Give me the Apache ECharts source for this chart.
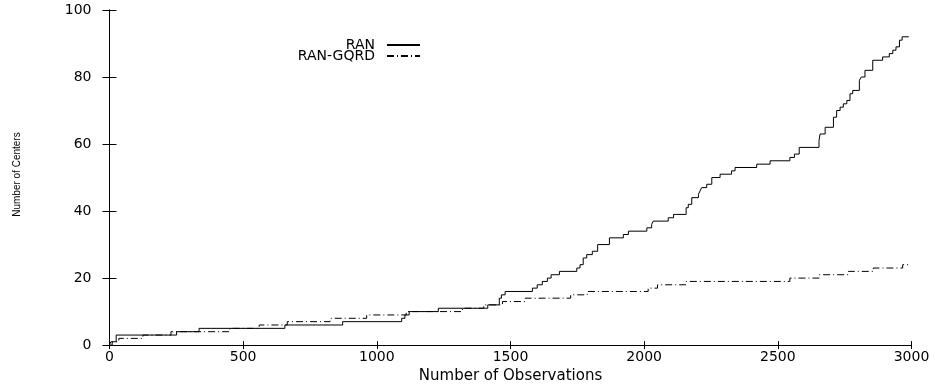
<!DOCTYPE html>
<html>
<head>
<meta charset="utf-8">
<script src="https://cdn.jsdelivr.net/npm/echarts@6/dist/echarts.min.js"></script>
<style>
  html, body { margin: 0; padding: 0; background: #fff; }
  #chart { width: 935px; height: 389px; }
</style>
</head>
<body>
<div id="chart"></div>
<script>
// step points: [observations, centers] -- value after the jump
const ranSteps = [
  [0, 0], [5, 1], [25, 3], [251, 4], [335, 5], [656, 6], [872, 7], [1093, 8],
  [1105, 9], [1121, 10], [1230, 11], [1415, 12], [1458, 14], [1466, 15], [1480, 16],
  [1582, 17], [1600, 18], [1619, 19], [1638, 20], [1652, 21], [1683, 22], [1748, 23],
  [1760, 24], [1772, 26], [1785, 27], [1806, 28], [1826, 30], [1870, 32], [1922, 33],
  [1941, 34], [2010, 35], [2028, 36], [2034, 37], [2090, 38], [2110, 39], [2157, 41],
  [2165, 42], [2178, 44], [2203, 45], [2209, 46], [2215, 47], [2234, 48], [2253, 50],
  [2284, 51], [2327, 52], [2340, 53], [2421, 54], [2471, 55], [2545, 56], [2562, 57],
  [2580, 59], [2654, 61], [2658, 63], [2677, 65], [2708, 68], [2720, 70], [2733, 71],
  [2745, 72], [2758, 73], [2770, 75], [2780, 76], [2805, 79], [2812, 80], [2826, 82],
  [2855, 85], [2892, 86], [2917, 87], [2930, 88], [2942, 89], [2955, 91], [2965, 92],
  [2990, 92]
];
const gqrdSteps = [
  [0, 0], [10, 1], [35, 2], [125, 3], [230, 4], [450, 5], [560, 6], [665, 7],
  [825, 8], [962, 9], [1110, 10], [1320, 11], [1400, 12], [1470, 13], [1555, 14],
  [1725, 15], [1787, 16], [2015, 17], [2050, 18], [2157, 19], [2545, 20], [2655, 21],
  [2764, 22], [2857, 23], [2967, 24], [2990, 24]
];
const xTicks = { min: 0, max: 3000, interval: 500 };
const yTicks = { min: 0, max: 100, interval: 20 };

const chart = echarts.init(document.getElementById("chart"));
const font = "DejaVu Sans";
const plain = (v) => String(v);

const option = {
  animation: false,
  textStyle: { fontFamily: font },
  grid: { left: 109.5, right: 23.5, top: 10, bottom: 33 },
  legend: {
    orient: "vertical",
    align: "right",
    right: 514,
    top: 38,
    padding: 0,
    itemWidth: 33,
    itemHeight: 8,
    itemGap: -3,
    itemStyle: { opacity: 0 },
    textStyle: {
      fontFamily: font, fontSize: 14, color: "#000",
      lineHeight: 11, padding: [0, 7, 0, 0],
    },
    data: ["RAN", "RAN-GQRD"],
  },
  xAxis: [
    {
      type: "value",
      ...xTicks,
      name: "Number of Observations",
      nameLocation: "middle",
      nameGap: 11,
      nameTextStyle: { fontFamily: font, fontSize: 15, color: "#000" },
      axisLine: { lineStyle: { color: "#000", width: 1 } },
      axisTick: { inside: true, length: 4, lineStyle: { color: "#000" } },
      axisLabel: { color: "#000", fontSize: 14, margin: 5, fontFamily: font, formatter: plain },
      splitLine: { show: false },
    },
    {
      type: "value",
      ...xTicks,
      position: "top",
      axisLine: { lineStyle: { color: "#000", width: 1 } },
      axisTick: { inside: true, length: 4, lineStyle: { color: "#000" } },
      axisLabel: { show: false },
      splitLine: { show: false },
    },
  ],
  yAxis: [
    {
      type: "value",
      ...yTicks,
      name: "Number of Centers",
      nameLocation: "middle",
      nameGap: 87,
      nameTextStyle: {
        fontFamily: "Liberation Sans", fontSize: 10, color: "#000",
        padding: [0, 0, 0, 6],
      },
      axisLine: { show: true, lineStyle: { color: "#000", width: 1 } },
      axisTick: { show: true, inside: true, length: 7, lineStyle: { color: "#000" } },
      axisLabel: { color: "#000", fontSize: 14, margin: 18, fontFamily: font, formatter: plain },
      splitLine: { show: false },
    },
    {
      type: "value",
      ...yTicks,
      position: "right",
      axisLine: { show: true, lineStyle: { color: "#000", width: 1 } },
      axisTick: { show: true, inside: true, length: 7, lineStyle: { color: "#000" } },
      axisLabel: { show: false },
      splitLine: { show: false },
    },
  ],
  series: [
    {
      name: "RAN",
      type: "line",
      step: "end",
      data: ranSteps,
      symbol: "none",
      color: "#000",
      lineStyle: { color: "#000", width: 1 },
    },
    {
      name: "RAN-GQRD",
      type: "line",
      step: "end",
      data: gqrdSteps,
      symbol: "none",
      color: "#000",
      lineStyle: { color: "#000", width: 1, type: [7, 3, 1, 3] },
    },
  ],
};
chart.setOption(option);
</script>
</body>
</html>
